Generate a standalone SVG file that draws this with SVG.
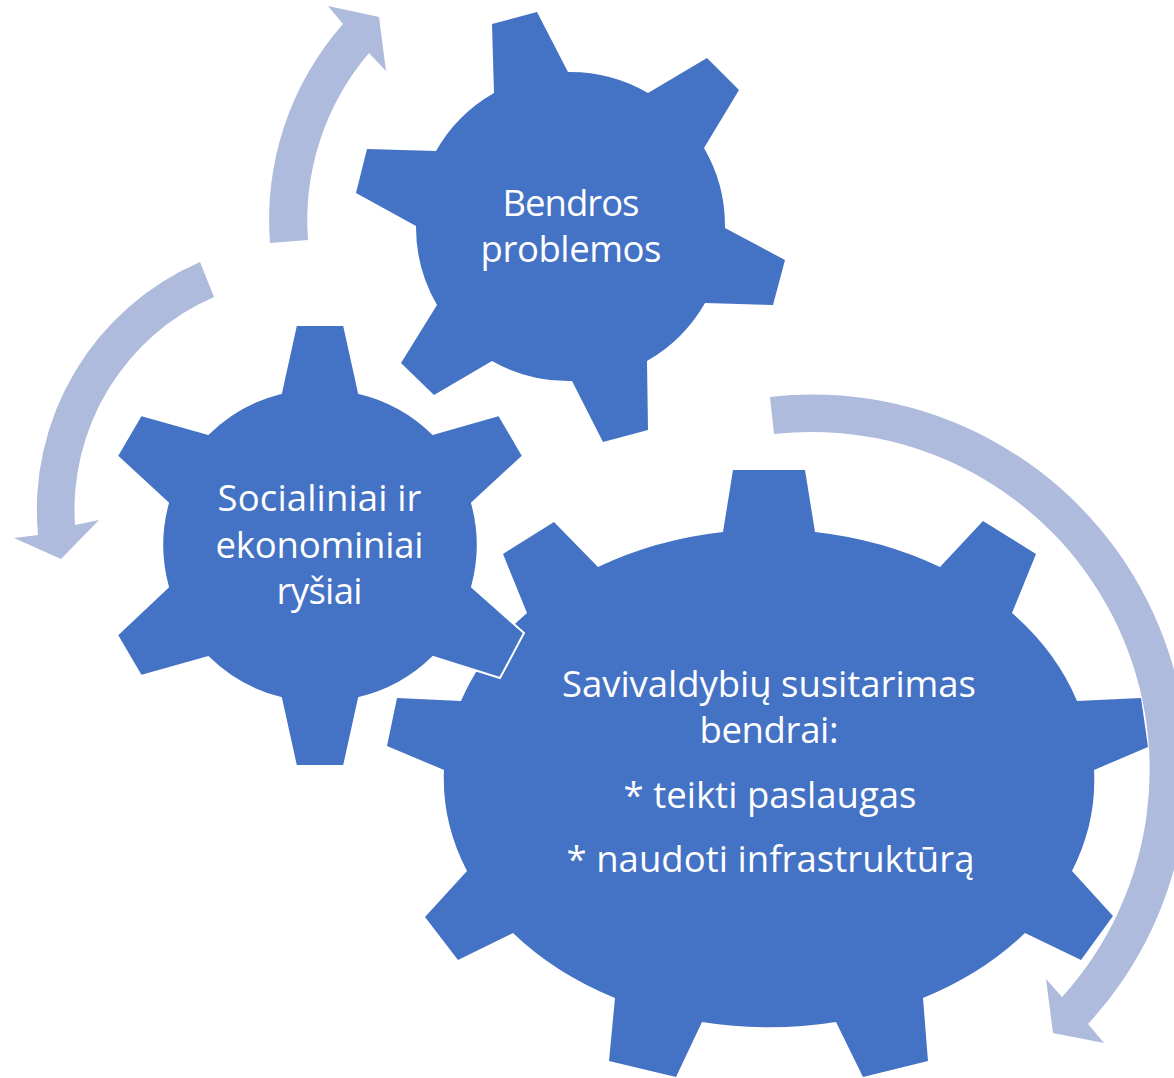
<svg xmlns="http://www.w3.org/2000/svg" width="1174" height="1078" viewBox="0 0 1174 1078">
<style>
.gear{fill:#4472C4}
.gear-outline{fill:#4472C4;stroke:#FFFFFF;stroke-width:2;stroke-linejoin:miter}
.arrow{fill:#AFBBDD}
.label{font-family:"Open Sans","Noto Sans","Liberation Sans",sans-serif;font-size:36.5px;fill:#FFFFFF;text-anchor:middle}
</style>
<rect width="1174" height="1078" fill="#FFFFFF"/>
<g id="gear-savivaldybiu">
<path class="gear" d="M723,532 L733,470 L805,470 L815,532 A326,249 0 0 1 940,567 L983,521 L1036,554 L1012,613 A326,249 0 0 1 1077,701 L1141,698 L1148,747 L1094,770 A326,249 0 0 1 1072,871 L1113,916 L1081,960 L1025,933 A326,249 0 0 1 923,998 L928,1061 L863,1077 L836,1022 A326,249 0 0 1 702,1022 L676,1077 L609,1061 L615,998 A326,249 0 0 1 513,933 L458,960 L425,917 L467,871 A326,249 0 0 1 444,770 L387,746 L397,698 L461,701 A326,249 0 0 1 527,613 L503,554 L554,522 L598,567 A326,249 0 0 1 723,532 Z"/>
<text class="label" x="769" y="697" textLength="414" lengthAdjust="spacing">Savivaldybių susitarimas</text>
<text class="label" x="769" y="743" textLength="139" lengthAdjust="spacing">bendrai:</text>
<text class="label" x="770" y="808" textLength="293" lengthAdjust="spacing">* teikti paslaugas</text>
<text class="label" x="770.5" y="872" textLength="408" lengthAdjust="spacing">* naudoti infrastruktūrą</text>
</g>
<g id="gear-bendros">
<path class="gear" d="M494,93 L492,24 L537,12 L568,72 A155,155 0 0 1 648,93 L707,58 L739,90 L704,148 A155,155 0 0 1 725,228 L785,260 L773,305 L705,303 A155,155 0 0 1 647,361 L648,430 L603,442 L572,381 A155,155 0 0 1 492,361 L434,395 L401,363 L437,305 A155,155 0 0 1 416,226 L356,193 L367,149 L436,151 A155,155 0 0 1 494,93 Z"/>
<text class="label" x="571" y="216" textLength="137" lengthAdjust="spacing">Bendros</text>
<text class="label" x="571" y="262" textLength="181" lengthAdjust="spacing">problemos</text>
</g>
<g id="gear-socialiniai">
<path class="gear-outline" d="M281,393 L296,325 L344,325 L359,393 A157.5,157.5 0 0 1 433,434 L499,415 L523,456 L472,503 A157.5,157.5 0 0 1 472,587 L524,633 L500,678 L433,657 A157.5,157.5 0 0 1 359,698 L344,766 L296,766 L281,698 A157.5,157.5 0 0 1 208,657 L141,676 L117,635 L168,587 A157.5,157.5 0 0 1 168,503 L117,456 L141,415 L208,434 A157.5,157.5 0 0 1 281,393 Z"/>
<text class="label" x="319.5" y="511" textLength="204" lengthAdjust="spacing">Socialiniai ir</text>
<text class="label" x="319.5" y="558" textLength="208" lengthAdjust="spacing">ekonominiai</text>
<text class="label" x="319.5" y="604" textLength="86" lengthAdjust="spacing">ryšiai</text>
</g>
<g id="connectors">
<path id="arrow-up" class="arrow" d="M270,243 A296,296 0 0 1 343,24 L328,6 L379,17 L386,71 L369,53 A258,258 0 0 0 308,240 Z"/>
<path id="arrow-left" class="arrow" d="M200,262 A270,270 0 0 0 38,535 L14,538 L61,559 L99,520 L75,525 A232,232 0 0 1 214,297 Z"/>
<path id="arrow-right" class="arrow" d="M770,397 A375,375 0 0 1 1088,1024 L1104,1043 L1053,1033 L1046,979 L1062,997 A338,338 0 0 0 774,434 Z"/>
</g>
</svg>
